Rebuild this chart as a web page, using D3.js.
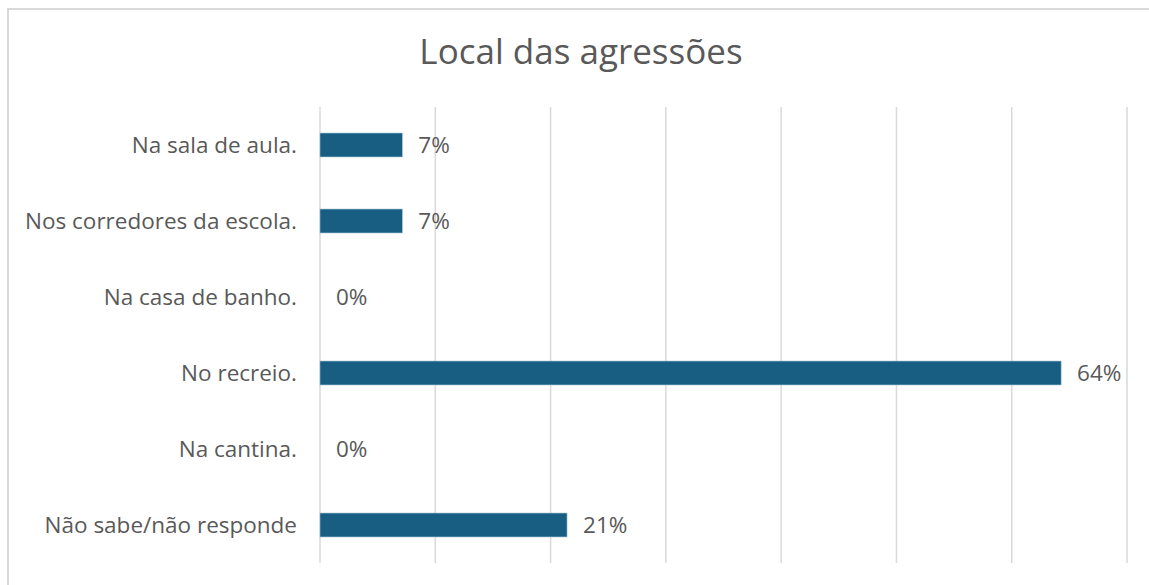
<!DOCTYPE html>
<html>
<head>
<meta charset="utf-8">
<script src="https://cdn.jsdelivr.net/npm/d3@7"></script>
<style>
  body { margin: 0; background: #fff; }
  svg text { font-family: "Open Sans", "Noto Sans", sans-serif; fill: #595959; }
</style>
</head>
<body>
<svg id="chart" width="1149" height="585"></svg>
<script>
// dados do gráfico
const categorias = ["Na sala de aula.", "Nos corredores da escola.", "Na casa de banho.", "No recreio.", "Na cantina.", "Não sabe/não responde"];
const valores = [1 / 14, 1 / 14, 0, 9 / 14, 0, 3 / 14];
const ticks = [0, 0.1, 0.2, 0.3, 0.4, 0.5, 0.6, 0.7];
const titulo = "Local das agressões";

const svg = d3.select("#chart");

// moldura
svg.append("rect")
  .attr("x", 8).attr("y", 9)
  .attr("width", 1160).attr("height", 600)
  .attr("fill", "#fff")
  .attr("stroke", "#d9d9d9")
  .attr("stroke-width", 2);

svg.append("text")
  .attr("x", 581).attr("y", 64)
  .attr("text-anchor", "middle")
  .style("font-size", "35px")
  .text(titulo);

const x = d3.scaleLinear().domain([0, 0.7]).range([320, 1127]);
const y = d3.scaleBand().domain(categorias).range([107, 563]).paddingInner(0.685).paddingOuter(0.3425);

// grelha
svg.append("g").selectAll("line").data(ticks).join("line")
  .attr("x1", d => x(d)).attr("x2", d => x(d))
  .attr("y1", 107).attr("y2", 563)
  .attr("stroke", "#d9d9d9")
  .attr("stroke-width", 1.5);

// barras
svg.append("g").selectAll("rect").data(valores).join("rect")
  .attr("x", x(0))
  .attr("y", (d, i) => y(categorias[i]))
  .attr("width", d => x(d) - x(0))
  .attr("height", y.bandwidth())
  .attr("fill", "#175e82")
  .attr("stroke", d => d > 0 ? "#9cc0d4" : "none")
  .attr("stroke-width", 0.6);

// rótulos de categoria
svg.append("g").selectAll("text").data(categorias).join("text")
  .attr("x", 297)
  .attr("y", d => y(d) + y.bandwidth() / 2)
  .attr("dy", "0.35em")
  .attr("text-anchor", "end")
  .style("font-size", "22.5px")
  .text(d => d);

// rótulos de valores
svg.append("g").selectAll("text").data(valores).join("text")
  .attr("x", d => x(d) + 16)
  .attr("y", (d, i) => y(categorias[i]) + y.bandwidth() / 2)
  .attr("dy", "0.35em")
  .style("font-size", "22.5px")
  .text(d => d3.format(".0%")(d));
</script>
</body>
</html>
